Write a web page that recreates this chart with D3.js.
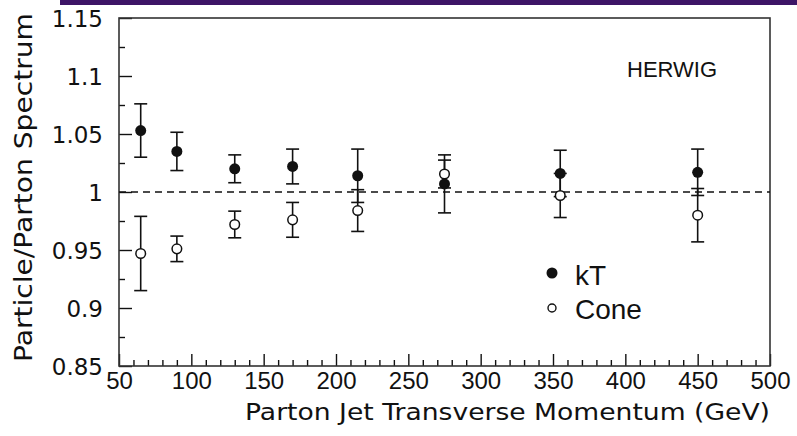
<!DOCTYPE html>
<html>
<head>
<meta charset="utf-8">
<script src="https://cdn.jsdelivr.net/npm/d3@7"></script>
<style>
  body { margin: 0; background: #fff; }
  svg { display: block; }
</style>
</head>
<body>
<svg width="797" height="436"></svg>
<script>
const svg_ = d3.select('svg');

// data
const ptGeV     = [65, 90, 130, 170, 215, 275, 355, 450];
const ktRatio   = [1.053, 1.035, 1.020, 1.022, 1.014, 1.007, 1.016, 1.017];
const ktErr     = [0.023, 0.0165, 0.012, 0.015, 0.023, 0.025, 0.020, 0.020];
const coneRatio = [0.947, 0.951, 0.972, 0.976, 0.984, 1.0155, 0.997, 0.980];
const coneErr   = [0.032, 0.011, 0.0115, 0.015, 0.018, 0.012, 0.019, 0.023];

const xMajor = d3.range(50, 501, 50);
const xMinor = d3.range(50, 501, 10).filter(v => v % 50 !== 0);
const yMajor = [0.85, 0.9, 0.95, 1, 1.05, 1.1, 1.15];
const yMinor = [0.875, 0.925, 0.975, 1.025, 1.075, 1.125];

const FRAME = { L: 119, R: 770, T: 18, B: 366 };

const x = d3.scaleLinear().domain([50, 500]).range([FRAME.L, FRAME.R]);
const y = d3.scaleLinear().domain([0.85, 1.15]).range([FRAME.B, FRAME.T]);

const INK = '#111';

// purple slide band at top
svg_.append('rect')
    .attr('x', 60).attr('y', 0)
    .attr('width', 737).attr('height', 5)
    .attr('fill', '#3d1466');

// axes
const gx = svg_.append('g').attr('transform', `translate(0,${FRAME.B})`);
gx.call(d3.axisBottom(x).tickValues(xMajor).tickSizeInner(-12).tickSizeOuter(0).tickPadding(6).tickFormat(d3.format('d')));
const gxm = svg_.append('g').attr('transform', `translate(0,${FRAME.B})`);
gxm.call(d3.axisBottom(x).tickValues(xMinor).tickSizeInner(-6).tickSizeOuter(0).tickFormat(''));

const gy = svg_.append('g').attr('transform', `translate(${FRAME.L},0)`);
gy.call(d3.axisLeft(y).tickValues(yMajor).tickSizeInner(-13).tickSizeOuter(0).tickPadding(16).tickFormat(d => d3.format('')(+d.toFixed(2))));
const gym = svg_.append('g').attr('transform', `translate(${FRAME.L},0)`);
gym.call(d3.axisLeft(y).tickValues(yMinor).tickSizeInner(-6).tickSizeOuter(0).tickFormat(''));

svg_.selectAll('.domain').remove();
svg_.selectAll('.tick line').attr('stroke', INK).attr('stroke-width', 1.4);

gx.selectAll('text')
    .attr('fill', INK)
    .style('font-family', '"Liberation Sans", Arial, sans-serif')
    .style('font-size', '24px');
gy.selectAll('text')
    .attr('fill', INK)
    .attr('dy', '0.36em')
    .style('font-family', '"DejaVu Sans", sans-serif')
    .style('font-size', '23px');

// frame
svg_.append('rect')
    .attr('x', FRAME.L).attr('y', FRAME.T)
    .attr('width', FRAME.R - FRAME.L).attr('height', FRAME.B - FRAME.T)
    .attr('fill', 'none').attr('stroke', '#333').attr('stroke-width', 1.6);

// reference line at 1
svg_.append('line')
    .attr('x1', x(50)).attr('x2', x(500))
    .attr('y1', y(1)).attr('y2', y(1))
    .attr('stroke', INK).attr('stroke-width', 1.5)
    .attr('stroke-dasharray', '7,5');

// error bars + markers
function series(vals, errs, filled) {
    const pts = ptGeV.map((p, i) => ({ p, v: vals[i], e: errs[i] }));
    const g = svg_.append('g').attr('stroke', INK).attr('stroke-width', 1.6);
    const CAP = 6.5;
    const bars = g.selectAll('g').data(pts).join('g');
    bars.append('line')
        .attr('x1', d => x(d.p)).attr('x2', d => x(d.p))
        .attr('y1', d => y(d.v + d.e)).attr('y2', d => y(d.v - d.e));
    bars.append('line')
        .attr('x1', d => x(d.p) - CAP).attr('x2', d => x(d.p) + CAP)
        .attr('y1', d => y(d.v + d.e)).attr('y2', d => y(d.v + d.e));
    bars.append('line')
        .attr('x1', d => x(d.p) - CAP).attr('x2', d => x(d.p) + CAP)
        .attr('y1', d => y(d.v - d.e)).attr('y2', d => y(d.v - d.e));
    return pts;
}

const ktPts = series(ktRatio, ktErr, true);
const conePts = series(coneRatio, coneErr, false);

svg_.append('g').selectAll('circle')
    .data(conePts).join('circle')
    .attr('cx', d => x(d.p)).attr('cy', d => y(d.v)).attr('r', 4.8)
    .attr('fill', '#fff').attr('stroke', INK).attr('stroke-width', 1.5);

svg_.append('g').selectAll('circle')
    .data(ktPts).join('circle')
    .attr('cx', d => x(d.p)).attr('cy', d => y(d.v)).attr('r', 5.5)
    .attr('fill', INK);

// HERWIG label
svg_.append('text')
    .attr('x', 627).attr('y', 77)
    .attr('fill', INK)
    .style('font-family', '"Liberation Sans", Arial, sans-serif')
    .style('font-size', '22px')
    .text('HERWIG');

// legend
const legend = svg_.append('g')
    .style('font-family', '"Liberation Sans", Arial, sans-serif')
    .style('font-size', '28px')
    .attr('fill', INK);
legend.append('circle').attr('cx', 552).attr('cy', 273).attr('r', 5.5).attr('fill', INK);
legend.append('text').attr('x', 575).attr('y', 285).text('kT');
legend.append('circle').attr('cx', 552).attr('cy', 308).attr('r', 4)
    .attr('fill', '#fff').attr('stroke', INK).attr('stroke-width', 1.4);
legend.append('text').attr('x', 575).attr('y', 319).text('Cone');

// axis titles
svg_.append('text')
    .attr('x', 770).attr('y', 420)
    .attr('text-anchor', 'end')
    .attr('fill', INK)
    .attr('textLength', 525).attr('lengthAdjust', 'spacingAndGlyphs')
    .style('font-family', '"DejaVu Sans", sans-serif')
    .style('font-size', '23px')
    .text('Parton Jet Transverse Momentum (GeV)');

svg_.append('text')
    .attr('transform', 'translate(32,362) rotate(-90)')
    .attr('x', 0).attr('y', 0)
    .attr('fill', INK)
    .attr('textLength', 349).attr('lengthAdjust', 'spacingAndGlyphs')
    .style('font-family', '"DejaVu Sans", sans-serif')
    .style('font-size', '25px')
    .text('Particle/Parton Spectrum');
</script>
</body>
</html>
